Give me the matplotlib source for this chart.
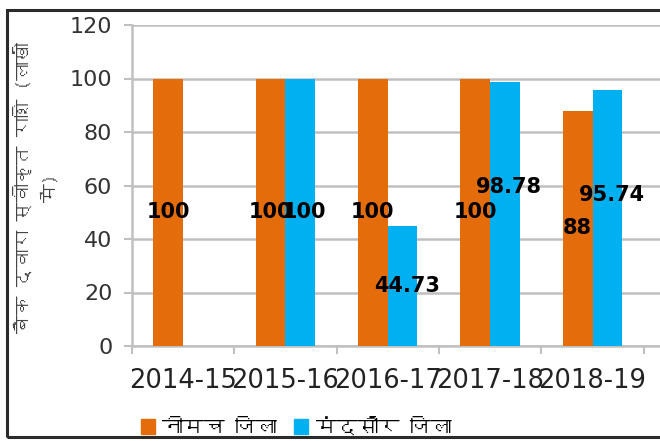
"""
Bank-sanctioned amount per year, Neemuch vs Mandsaur district (grouped bars).
"""

import numpy as np
import matplotlib
matplotlib.use("Agg")
import matplotlib.pyplot as plt
from matplotlib import font_manager
from matplotlib.ft2font import FT2Font
from matplotlib.patches import Rectangle, Patch

years = ["2014-15", "2015-16", "2016-17", "2017-18", "2018-19"]
neemuch = [100, 100, 100, 100, 88]
mandsaur = [np.nan, 100, 44.73, 98.78, 95.74]
neemuch_labels = ["100", "100", "100", "100", "88"]
mandsaur_labels = ["", "100", "44.73", "98.78", "95.74"]

series_names = ["नीमच जिला", "मंदसौर जिला"]
y_label = "बैंक द्वारा स्वीकृत राशि (लाखों\nमें)"

ORANGE = "#E46C0A"
BLUE = "#00B0F0"
GRID = "#C0C0C0"


def find_devanagari_font():
    """Look for any installed font that covers Devanagari."""
    for f in font_manager.fontManager.ttflist:
        try:
            if ord("न") in FT2Font(f.fname).get_charmap():
                return f.name
        except Exception:
            continue
    return None


deva = find_devanagari_font()
hindi_family = [deva, "DejaVu Sans"] if deva else ["DejaVu Sans"]
plt.rcParams["font.family"] = ["DejaVu Sans"]

fig = plt.figure(figsize=(6.6, 4.41), dpi=100)
ax = fig.add_axes([131.7 / 660, 1 - 346 / 441, (660 - 131.7) / 660, (346 - 25) / 441])

x = np.arange(len(years))
w = 0.29
ax.bar(x - w / 2, neemuch, w, color=ORANGE, zorder=3)
ax.bar(x + w / 2, mandsaur, w, color=BLUE, zorder=3)

# data labels sit in the middle of each bar, two of them were nudged up
nudge = {("m", 3): 10, ("m", 4): 8.5}
for i in range(len(years)):
    ax.text(x[i] - w / 2, neemuch[i] / 2 + nudge.get(("n", i), 0), neemuch_labels[i],
            ha="center", va="center", fontsize=15, fontweight="bold", color="black", zorder=4)
    if mandsaur_labels[i]:
        ax.text(x[i] + w / 2 + 0.04, mandsaur[i] / 2 + nudge.get(("m", i), 0), mandsaur_labels[i],
                ha="center", va="center", fontsize=15, fontweight="bold", color="black", zorder=4)

ax.set_ylim(0, 120)
ax.set_yticks(range(0, 121, 20))
ax.set_xlim(-0.5, -0.5 + (660 - 131.7) / 102.4)

# category boundary ticks, labels at centres
ax.set_xticks(np.arange(-0.5, len(years), 1.0))
ax.set_xticklabels([])
ax.set_xticks(x, minor=True)
ax.set_xticklabels(years, minor=True, fontsize=18.5, color="#222222")
ax.tick_params(axis="x", which="major", length=6, width=1.5, color=GRID, direction="out")
ax.tick_params(axis="x", which="minor", length=0, pad=16)
ax.tick_params(axis="y", length=6, width=1.5, color=GRID, labelsize=16, pad=8, labelcolor="#333333")

ax.grid(axis="y", color=GRID, linewidth=1.8, zorder=0)
for side in ["top", "right"]:
    ax.spines[side].set_visible(False)
for side in ["left", "bottom"]:
    ax.spines[side].set_color(GRID)
    ax.spines[side].set_linewidth(1.8)

fig.text(36 / 660, 1 - 188 / 441, y_label, rotation=90, ha="center", va="center",
         fontsize=13.5, family=hindi_family, color="#444444", linespacing=1.6)

handles = [Patch(color=ORANGE), Patch(color=BLUE)]
fig.legend(handles, series_names, loc="center", bbox_to_anchor=(296 / 660, 1 - 427 / 441),
           ncol=2, frameon=False, prop={"family": hindi_family, "size": 15},
           handlelength=0.7, handleheight=0.7, handletextpad=0.35, columnspacing=0.8)

# outer chart border, right side runs off the picture
fig.patches.append(Rectangle((7 / 660, 1 - 437 / 441), 1.2, (437 - 9.5) / 441,
                             transform=fig.transFigure, fill=False,
                             edgecolor="#2b2b2b", linewidth=2.2))

fig.savefig("out.png", dpi=100)
